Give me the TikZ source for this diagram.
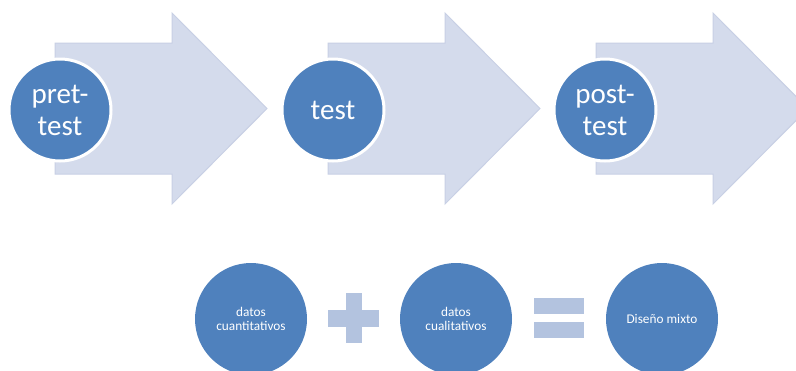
\documentclass[tikz,border=0pt]{standalone}
\usepackage{fontspec}
\setmainfont{Carlito}
\definecolor{circblue}{RGB}{79,129,189}
\definecolor{arrowfill}{RGB}{212,219,236}
\definecolor{arrowedge}{RGB}{200,208,229}
\definecolor{opfill}{RGB}{179,195,223}
\tikzset{
  bigarrow/.style={fill=arrowfill,draw=arrowedge,line width=1pt,line join=miter},
  topcirc/.style={circle,fill=circblue,draw=white,line width=3pt,minimum size=102pt,inner sep=0pt,
    text=white,align=center,font=\fontsize{29}{32}\selectfont},
  botcirc/.style={circle,fill=circblue,minimum size=112pt,inner sep=0pt,
    text=white,align=center,font=\fontsize{13.3}{14.3}\selectfont},
  opbar/.style={fill=opfill,draw=none},
}
\begin{document}
\begin{tikzpicture}[x=1pt,y=-1pt]
\useasboundingbox (0,0) rectangle (796,370);
\clip (0,0) rectangle (796,370);
\fill[white] (0,0) rectangle (796,370);
% arrows
\foreach \dx/\nm in {0/a1,273/a2,541/a3}{
  \draw[bigarrow] ({55+\dx},43) -- ({172+\dx},43) -- ({172+\dx},13) -- ({267+\dx},108.5)
     -- ({172+\dx},204) -- ({172+\dx},174) -- ({55+\dx},174) -- cycle;
}
\node[topcirc] (pre) at (60,110) {pret-\\test};
\node[topcirc] (tst) at (333,110) {test};
\node[topcirc] (post) at (605,110) {post-\\test};
% bottom
\node[botcirc] (cuan) at (251,319) {datos\\cuantitativos};
\node[botcirc] (cual) at (456,319) {datos\\cualitativos};
\node[botcirc] (mix) at (662,319) {Diseño mixto};
% plus
\coordinate (plus) at (353.5,318);
\fill[opbar] (328,309.5) rectangle (379,326.5);
\fill[opbar] (345.5,293) rectangle (361.5,343);
% equals
\coordinate (eq) at (559,318);
\fill[opbar] (534,298) rectangle (584,313.5);
\fill[opbar] (534,322) rectangle (584,338);
\end{tikzpicture}
\end{document}
